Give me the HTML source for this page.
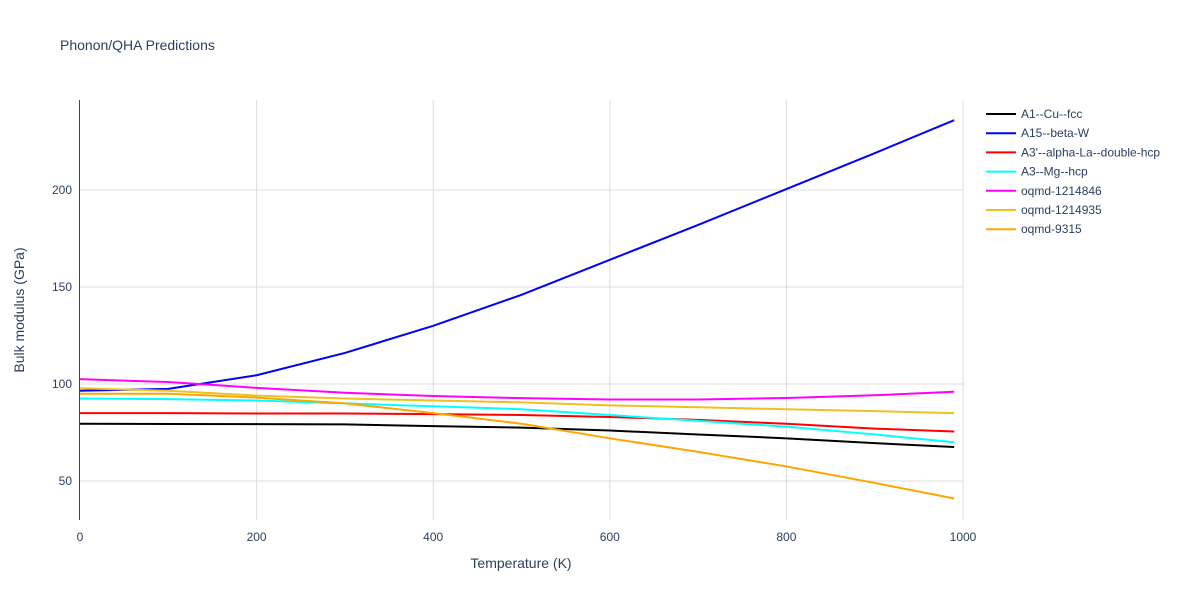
<!DOCTYPE html>
<html><head><meta charset="utf-8"><style>
body{margin:0;background:#fff;font-family:"Liberation Sans",sans-serif;}
svg text{font-family:"Liberation Sans",sans-serif;fill:#2a3f5f;}
</style></head><body>
<svg id="chart" width="1200" height="600">
<text x="60" y="50" font-size="14">Phonon/QHA Predictions</text>
<g id="grid"></g><g id="series"></g><g id="axes"></g><g id="legend"></g>
<text x="521" y="568" font-size="14" text-anchor="middle">Temperature (K)</text>
<text x="24" y="310" font-size="14" text-anchor="middle" transform="rotate(-90 24 310)">Bulk modulus (GPa)</text>
</svg>
<script>
const temps=[0,100,200,300,400,500,600,700,800,900,990];
const names=["A1--Cu--fcc","A15--beta-W","A3'--alpha-La--double-hcp","A3--Mg--hcp","oqmd-1214846","oqmd-1214935","oqmd-9315"];
const colors=["#000000","#0000ff","#ff0000","#00ffff","#ff00ff","#f0c020","#ffa500"];
const sA1=[79.5,79.4,79.3,79.2,78.3,77.5,76,74,72,69.5,67.5];
const sA15=[96.5,97.5,104.5,116,130,146,164,182,200.5,219,236];
const sA3p=[85,85,84.8,84.8,84.5,84,83,81.5,79.5,77,75.5];
const sA3=[92.5,92.2,91.5,90,88.5,87,84,81,78,74,70];
const s846=[102.5,101,98,95.5,93.8,92.7,92,92,92.8,94.2,96];
const s935=[97.8,96.5,94,92.5,91.5,90.5,89,88,87,86,85];
const s9315=[95,95,93,90,85,79.5,72,65,57.5,49,41];
const series=[sA1,sA15,sA3p,sA3,s846,s935,s9315];
const xTicks=[0,200,400,600,800,1000];
const yTicks=[50,100,150,200];
const X=v=>80+v*0.883, Y=v=>578-v*1.94;
const NS="http://www.w3.org/2000/svg";
function mk(t,p,a){const e=document.createElementNS(NS,t);for(const k in a)e.setAttribute(k,a[k]);p.appendChild(e);return e;}
const g=document.getElementById('grid'),ax=document.getElementById('axes'),s=document.getElementById('series'),lg=document.getElementById('legend');
xTicks.forEach(t=>{if(t>0){const l=mk('line',g,{x1:X(t),x2:X(t),y1:100,y2:520,stroke:'#ddd'});

}
const tx=mk('text',ax,{x:X(t),y:541,'font-size':12,'text-anchor':'middle'});tx.textContent=t;

});
yTicks.forEach(t=>{const l=mk('line',g,{x1:80,x2:963,y1:Y(t),y2:Y(t),stroke:'#ddd'});


const tx=mk('text',ax,{x:72,y:Y(t)+4,'font-size':12,'text-anchor':'end'});tx.textContent=t;

});
const yl=mk('line',ax,{x1:79.5,x2:79.5,y1:100,y2:520,stroke:'#444'});


series.forEach((d,i)=>{const p=mk('polyline',s,{points:d.map((v,j)=>X(temps[j])+','+Y(v)).join(' '),fill:'none',stroke:colors[i],'stroke-width':2});


const y=114+i*19.2;
const le=mk('g',lg,{});


mk('line',le,{x1:986,x2:1016,y1:y,y2:y,stroke:colors[i],'stroke-width':2});
const t=mk('text',le,{x:1021,y:y+4,'font-size':12});t.textContent=names[i];});
</script>
</body></html>
